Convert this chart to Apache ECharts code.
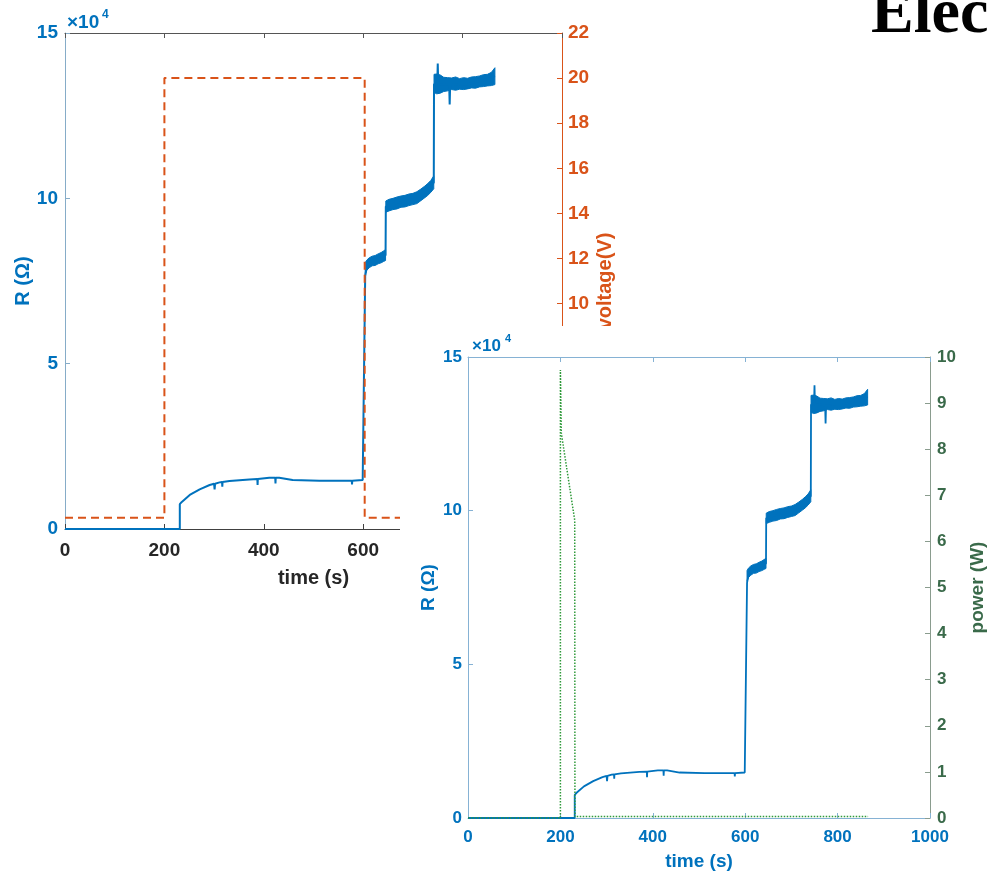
<!DOCTYPE html>
<html>
<head>
<meta charset="utf-8">
<script src="https://cdn.jsdelivr.net/npm/echarts@6/dist/echarts.min.js"></script>
<style>
  html, body { margin: 0; padding: 0; background: #fff; overflow: hidden; }
  #voltageChart { position: absolute; left: 0; top: 0; width: 989px; height: 873px; }
  #powerChart { position: absolute; left: 400px; top: 326px; width: 589px; height: 547px; background: #fff; }
</style>
</head>
<body>
<div id="voltageChart"></div>
<div id="powerChart"></div>
<script>
// ---- Resistance trace: time (s) and R (Ω) ----
const rTime = [0, 231, 231, 235, 251, 271, 291, 300, 301, 302, 311, 316, 316.5, 317, 331, 371, 387, 387.5, 388, 411,
               423, 423.5, 424, 431, 458, 512, 572, 577, 577.5, 578, 599, 603, 604, 607, 615, 625, 635, 645, 645.5, 660,
               680, 700, 720, 735, 742, 742.5, 749, 750, 751, 760, 773, 774, 775, 790, 810, 830, 850, 865];
const rOhm  = [0, 0, 7500, 8200, 10300, 12000, 13300, 13700, 12000, 13700, 14100, 14200, 12800, 14200, 14500, 15000, 15100, 13300, 15100, 15500,
               15500, 13800, 15500, 15500, 14800, 14600, 14600, 14600, 13500, 14600, 14800, 14600, 76500, 79000, 80800, 81500, 82000, 82800, 97500, 98300,
               99000, 99700, 101200, 103200, 104800, 134500, 134600, 140800, 134600, 134500, 134300, 128400, 134300, 134400, 134500, 135300, 136000, 137000];

// Noise envelope of R on the three high-resistance steps (Ω)
const stepATime = [604, 607, 612, 618, 624, 630, 636, 641, 645];
const stepALow  = [77000, 78200, 79000, 79600, 79700, 80200, 80500, 80900, 81200];
const stepAHigh = [80500, 81300, 82000, 82500, 82700, 83200, 83600, 84100, 84500];

const stepBTime = [645.5, 652, 660, 668, 676, 684, 692, 700, 708, 716, 724, 730, 736, 742];
const stepBLow  = [95800, 96200, 96600, 96800, 97300, 97400, 97800, 98100, 98400, 99300, 100200, 100900, 101800, 102900];
const stepBHigh = [99200, 99700, 100000, 100400, 100700, 100900, 101300, 101500, 102000, 102800, 103700, 104500, 105400, 106800];

const stepCTime = [742.5, 748, 755, 762, 770, 778, 786, 794, 802, 810, 818, 826, 834, 842, 850, 858, 865];
const stepCLow  = [132000, 131600, 131800, 132300, 132500, 132900, 132700, 133000, 132900, 133100, 133400, 133300, 133700, 133800, 134000, 134100, 134400];
const stepCHigh = [137500, 137600, 137300, 136600, 136500, 136400, 136700, 136200, 136500, 136300, 136700, 136800, 137000, 137400, 137500, 138100, 139500];

// ---- Applied voltage (V) ----
const vTime = [0, 200, 200, 603, 603, 865];
const volts = [0.5, 0.5, 20, 20, 0.5, 0.5];

// ---- Heating power (W) ----
const pTime = [0, 200, 200, 202, 231, 231.5, 600, 866];
const watts = [0, 0, 9.72, 8.35, 6.46, 0.03, 0.03, 0.03];

// ---- Axis ranges ----
const timeRange = { min: 0, max: 1000, step: 200 };
const rRange = { min: 0, max: 150000, step: 50000 };
const vRange = { min: 0, max: 22, step: 2 };
const pRange = { min: 0, max: 10, step: 1 };

const BLUE = '#0072BD';
const ORANGE = '#D95319';
const GREEN = '#2f9a3a';
const GREEN_TEXT = '#3a6a4a';
const SANS = '"Liberation Sans", Arial, Helvetica, sans-serif';

const pairs = (xs, ys) => xs.map((x, i) => [x, ys[i]]);

function envelope(t, lo, hi, yAxisIndex) {
  return {
    type: 'custom',
    xAxisIndex: 0,
    yAxisIndex: yAxisIndex,
    silent: true,
    z: 3,
    data: t.map((v, i) => [v, lo[i], hi[i]]),
    encode: { x: 0, y: [1, 2] },
    renderItem: function (params, api) {
      if (params.dataIndex !== 0) return;
      const upper = t.map((v, i) => api.coord([v, hi[i]]));
      const lower = t.map((v, i) => api.coord([v, lo[i]])).reverse();
      return {
        type: 'polygon',
        shape: { points: upper.concat(lower) },
        style: { fill: BLUE, stroke: BLUE, lineWidth: 1 }
      };
    }
  };
}

function label(color, size) {
  return { color: color, fontWeight: 'bold', fontSize: size, fontFamily: SANS };
}

function valueAxis(range) {
  return { type: 'value', min: range.min, max: range.max, interval: range.step, splitLine: { show: false }, nameMoveOverlap: false };
}

function frame(color) {
  return {
    axisLine: { show: true, onZero: false, lineStyle: { color: color, width: 1 } },
    axisTick: { show: true, inside: true, length: 5, lineStyle: { color: color } }
  };
}

const ohmFormatter = v => String(v / 10000);
const plainFormatter = v => String(v);

// ================= Resistance & voltage =================
const voltageChart = echarts.init(document.getElementById('voltageChart'), null, { renderer: 'canvas' });
voltageChart.setOption({
  animation: false,
  backgroundColor: '#fff',
  grid: { left: 65, top: 33, width: 497, height: 496, containLabel: false, outerBoundsMode: 'none' },
  xAxis: [
    Object.assign(valueAxis(timeRange), frame('#404040'), {
      position: 'bottom',
      axisLabel: Object.assign(label('#262626', 19), { margin: 12, formatter: plainFormatter }),
      name: 'time (s)', nameLocation: 'middle', nameGap: 39,
      nameTextStyle: label('#262626', 20)
    }),
    Object.assign(valueAxis(timeRange), frame('#555555'), {
      position: 'top',
      axisLabel: { show: false }
    })
  ],
  yAxis: [
    Object.assign(valueAxis(rRange), frame('#86acc8'), {
      position: 'left',
      axisLabel: Object.assign(label(BLUE, 19), { margin: 7, formatter: ohmFormatter }),
      name: 'R (Ω)', nameLocation: 'middle', nameRotate: 90, nameGap: 32,
      nameTextStyle: label(BLUE, 20)
    }),
    Object.assign(valueAxis(vRange), frame(ORANGE), {
      position: 'right',
      axisLabel: Object.assign(label(ORANGE, 19), { margin: 6 }),
      name: 'voltage(V)', nameLocation: 'middle', nameRotate: 90, nameGap: 33,
      nameTextStyle: label(ORANGE, 20)
    })
  ],
  graphic: [
    { type: 'text', x: 67, y: 23, style: { text: '×10', fill: BLUE, font: 'bold 19px ' + SANS, verticalAlign: 'middle' } },
    { type: 'text', x: 102, y: 15, style: { text: '4', fill: BLUE, font: 'bold 12px ' + SANS, verticalAlign: 'middle' } },
    { type: 'text', x: 871, y: 15, style: { text: 'Electrical', fill: '#000', font: 'bold 64px "Liberation Serif", "Times New Roman", serif', verticalAlign: 'middle' } }
  ],
  series: [
    {
      type: 'line', xAxisIndex: 0, yAxisIndex: 0, showSymbol: false, symbol: 'none', z: 3,
      data: pairs(rTime, rOhm),
      lineStyle: { color: BLUE, width: 2 }
    },
    envelope(stepATime, stepALow, stepAHigh, 0),
    envelope(stepBTime, stepBLow, stepBHigh, 0),
    envelope(stepCTime, stepCLow, stepCHigh, 0),
    {
      type: 'line', xAxisIndex: 0, yAxisIndex: 1, showSymbol: false, symbol: 'none', z: 4,
      data: pairs(vTime, volts),
      lineStyle: { color: ORANGE, width: 2, type: [8, 5] }
    }
  ]
});

// ================= Resistance & power =================
const powerChart = echarts.init(document.getElementById('powerChart'), null, { renderer: 'canvas' });
const AXIS_BLUE = '#86b2d4';
powerChart.setOption({
  animation: false,
  backgroundColor: '#fff',
  grid: { left: 68, top: 31, width: 462, height: 461, containLabel: false, outerBoundsMode: 'none' },
  xAxis: [
    Object.assign(valueAxis(timeRange), frame(AXIS_BLUE), {
      position: 'bottom',
      axisLabel: Object.assign(label(BLUE, 17), { margin: 11, formatter: plainFormatter }),
      name: 'time (s)', nameLocation: 'middle', nameGap: 34,
      nameTextStyle: label(BLUE, 19)
    }),
    Object.assign(valueAxis(timeRange), frame(AXIS_BLUE), {
      position: 'top',
      axisLabel: { show: false }
    })
  ],
  yAxis: [
    Object.assign(valueAxis(rRange), frame(AXIS_BLUE), {
      position: 'left',
      axisLabel: Object.assign(label(BLUE, 17), { margin: 6, formatter: ohmFormatter }),
      name: 'R (Ω)', nameLocation: 'middle', nameRotate: 90, nameGap: 30,
      nameTextStyle: label(BLUE, 19)
    }),
    Object.assign(valueAxis(pRange), frame('#8a9c8e'), {
      position: 'right',
      axisLabel: Object.assign(label(GREEN_TEXT, 17), { margin: 7 }),
      name: 'power (W)', nameLocation: 'middle', nameRotate: 90, nameGap: 38,
      nameTextStyle: label(GREEN_TEXT, 19)
    })
  ],
  graphic: [
    { type: 'text', x: 72, y: 20, style: { text: '×10', fill: BLUE, font: 'bold 17px ' + SANS, verticalAlign: 'middle' } },
    { type: 'text', x: 105, y: 13, style: { text: '4', fill: BLUE, font: 'bold 11px ' + SANS, verticalAlign: 'middle' } }
  ],
  series: [
    {
      type: 'line', xAxisIndex: 0, yAxisIndex: 0, showSymbol: false, symbol: 'none', z: 3,
      data: pairs(rTime, rOhm),
      lineStyle: { color: BLUE, width: 1.8 }
    },
    envelope(stepATime, stepALow, stepAHigh, 0),
    envelope(stepBTime, stepBLow, stepBHigh, 0),
    envelope(stepCTime, stepCLow, stepCHigh, 0),
    {
      type: 'line', xAxisIndex: 0, yAxisIndex: 1, showSymbol: false, symbol: 'none', z: 4,
      data: pairs(pTime, watts),
      lineStyle: { color: GREEN, width: 1.5, type: 'dotted' }
    }
  ]
});
</script>
</body>
</html>
